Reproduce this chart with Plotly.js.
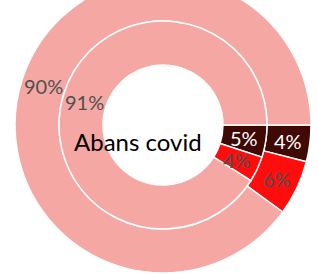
<!DOCTYPE html>
<html><head><meta charset="utf-8">
<script src="https://cdn.plot.ly/plotly-3.0.1.min.js"></script>
<style>html,body{margin:0;padding:0;overflow:hidden;background:#fff;width:318px;height:274px}#chart{position:absolute;left:0;top:-23px;width:318px;height:296px}</style>
</head><body><div id="chart"></div>
<script>
const categories = ["C", "B", "A"];
const outerValues = [4, 6, 90];
const innerValues = [5, 4, 91];
const colors = ["#410904", "#ff0d0d", "#f5a8a3"];
const textColors = ["#ffffff", "#505050", "#505050"];
const centerLabel = "Abans covid";

const outerHole = 104 / 148, innerHole = 60 / 104, innerScale = 104 / 148;
const common = {
  type: "pie", labels: categories, sort: false, direction: "clockwise", rotation: 90,
  textinfo: "none",
  marker: {colors: colors, line: {color: "#ffffff", width: 1.5}},
  hoverinfo: "none", showlegend: false
};
const half = innerScale / 2;
const traces = [
  Object.assign({}, common, {values: outerValues, hole: outerHole, domain: {x: [0, 1], y: [0, 1]}}),
  Object.assign({}, common, {values: innerValues, hole: innerHole, domain: {x: [0.5 - half, 0.5 + half], y: [0.5 - half, 0.5 + half]}})
];

// percentage labels placed at the middle of each slice (derived from the values)
function labels(values, rMid) {
  const total = values.reduce((a, b) => a + b, 0);
  let cum = 0;
  return values.map((v, i) => {
    const mid = (cum + v / 2) / total; cum += v;
    const ang = -mid * 2 * Math.PI; // clockwise from 3 o'clock
    return {text: Math.round(100 * v / total) + "%", x: 0.5 + rMid * Math.cos(ang), y: 0.5 + rMid * Math.sin(ang),
      xref: "paper", yref: "paper", xanchor: "center", yanchor: "middle", showarrow: false,
      font: {family: "Lato", size: 20, color: textColors[i]}};
  });
}
const rOuterMid = 0.5 * (1 + outerHole) / 2;
const rInnerMid = half * (1 + innerHole) / 2;
const annotations = labels(outerValues, rOuterMid).concat(labels(innerValues, rInnerMid));
annotations.push({text: centerLabel, x: 0.414, y: 0.443, xref: "paper", yref: "paper",
  xanchor: "center", yanchor: "middle", showarrow: false,
  font: {family: "Lato", size: 24, color: "#000000"}});

const layout = {
  width: 318, height: 296,
  margin: {l: 15, r: 7, t: 0, b: 0},
  paper_bgcolor: "#ffffff",
  annotations: annotations
};
Plotly.newPlot("chart", traces, layout, {displayModeBar: false, staticPlot: true});
</script></body></html>
